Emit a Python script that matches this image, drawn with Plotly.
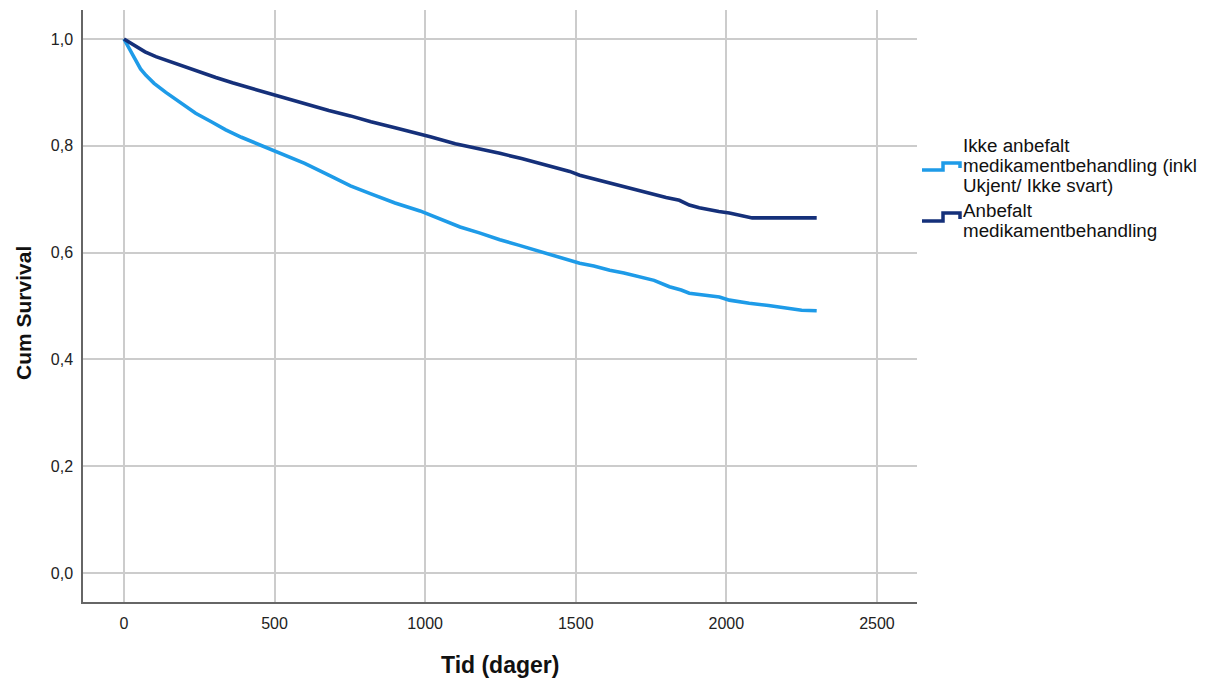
import plotly.graph_objects as go

# Kaplan-Meier survival estimates, time in days
tid_ikke = [0, 10, 23, 40, 55, 73, 100, 139, 190, 238, 290, 338, 390, 437, 487, 536,
            600, 680, 752, 820, 900, 983, 1017, 1060, 1116, 1180, 1248, 1310, 1381,
            1450, 1513, 1560, 1613, 1660, 1712, 1760, 1811, 1850, 1877, 1930, 1977,
            2010, 2076, 2140, 2209, 2250, 2300]
surv_ikke = [1.0, 0.99, 0.977, 0.958, 0.944, 0.932, 0.917, 0.900, 0.879, 0.861, 0.845,
             0.830, 0.816, 0.805, 0.795, 0.783, 0.767, 0.745, 0.725, 0.710, 0.693,
             0.678, 0.670, 0.660, 0.648, 0.637, 0.624, 0.614, 0.602, 0.592, 0.580,
             0.575, 0.567, 0.562, 0.555, 0.548, 0.536, 0.530, 0.524, 0.520, 0.517,
             0.511, 0.505, 0.501, 0.496, 0.492, 0.491]

tid_anb = [0, 15, 40, 70, 106, 150, 200, 250, 305, 360, 420, 487, 536, 600, 680, 752,
           820, 900, 983, 1017, 1100, 1180, 1248, 1320, 1400, 1480, 1513, 1560, 1613,
           1680, 1745, 1800, 1844, 1860, 1877, 1910, 1944, 1975, 2010, 2040, 2065,
           2086, 2150, 2200, 2300]
surv_anb = [1.0, 0.995, 0.985, 0.976, 0.967, 0.958, 0.948, 0.938, 0.928, 0.918, 0.908,
            0.898, 0.889, 0.878, 0.866, 0.856, 0.845, 0.834, 0.823, 0.817, 0.804,
            0.795, 0.786, 0.776, 0.764, 0.752, 0.745, 0.738, 0.730, 0.721, 0.711,
            0.703, 0.698, 0.694, 0.689, 0.684, 0.680, 0.677, 0.674, 0.670, 0.667,
            0.665, 0.665, 0.665, 0.665]

x_ticks = [0, 500, 1000, 1500, 2000, 2500]
x_tick_text = ["0", "500", "1000", "1500", "2000", "2500"]
y_ticks = [0.0, 0.2, 0.4, 0.6, 0.8, 1.0]
y_tick_text = ["0,0", "0,2", "0,4", "0,6", "0,8", "1,0"]

legend_ikke = ["Ikke anbefalt", "medikamentbehandling (inkl", "Ukjent/ Ikke svart)"]
legend_anb = ["Anbefalt", "medikamentbehandling"]

LIGHT = "#1E9BE8"
DARK = "#15307A"
FONT = "Liberation Sans, Arial, sans-serif"

W, H = 1208, 679
L, R, T, B = 83, 291, 10, 77
PW, PH = W - L - R, H - T - B


def px(x):
    return (x - L) / PW


def py(y):
    return (H - B - y) / PH


fig = go.Figure()
fig.add_trace(go.Scatter(x=tid_ikke, y=surv_ikke, mode="lines",
                         line=dict(color=LIGHT, width=3.6), showlegend=False))
fig.add_trace(go.Scatter(x=tid_anb, y=surv_anb, mode="lines",
                         line=dict(color=DARK, width=3.6), showlegend=False))

axis_common = dict(
    showgrid=True, gridcolor="#CCCCCC", gridwidth=1.5,
    showline=True, linecolor="#666666", linewidth=1.5,
    zeroline=False, ticks="outside", tickcolor="rgba(0,0,0,0)",
    tickfont=dict(family=FONT, size=16, color="#222222"),
)

fig.update_xaxes(range=[-136, 2633], tickvals=x_ticks, ticktext=x_tick_text,
                 ticklen=6, **axis_common)
fig.update_yaxes(range=[-0.0543, 1.0543], tickvals=y_ticks, ticktext=y_tick_text,
                 ticklen=5, **axis_common)

annotations = [
    dict(text="<b>Tid (dager)</b>", x=px(500), y=py(665), xref="paper", yref="paper",
         showarrow=False, xanchor="center", yanchor="middle",
         font=dict(family=FONT, size=23, color="#111111")),
    dict(text="<b>Cum Survival</b>", x=px(23), y=py(313), xref="paper", yref="paper",
         showarrow=False, xanchor="center", yanchor="middle", textangle=-90,
         font=dict(family=FONT, size=21, color="#111111")),
]

# legend entries drawn as text lines next to step-shaped glyphs
for i, line in enumerate(legend_ikke):
    annotations.append(dict(text=line, x=px(961), y=py(145 + 20.5 * i),
                            xref="paper", yref="paper", showarrow=False,
                            xanchor="left", yanchor="middle",
                            font=dict(family=FONT, size=18.8, color="#111111")))
for i, line in enumerate(legend_anb):
    annotations.append(dict(text=line, x=px(961), y=py(210 + 20.5 * i),
                            xref="paper", yref="paper", showarrow=False,
                            xanchor="left", yanchor="middle",
                            font=dict(family=FONT, size=18.8, color="#111111")))


def step_glyph(y_low, y_high, color):
    pts = [(922, y_low), (943, y_low), (943, y_high), (960, y_high), (960, y_low - 2)]
    path = "M " + " L ".join(f"{px(a):.5f},{py(b):.5f}" for a, b in pts)
    return dict(type="path", path=path, xref="paper", yref="paper",
                line=dict(color=color, width=3.5))


shapes = [step_glyph(170, 163, LIGHT), step_glyph(221, 213, DARK)]

fig.update_layout(
    width=W, height=H,
    margin=dict(l=L, r=R, t=T, b=B, autoexpand=False),
    paper_bgcolor="white", plot_bgcolor="white",
    annotations=annotations, shapes=shapes,
    showlegend=False,
    font=dict(family=FONT),
)

fig.write_html("out.html")
